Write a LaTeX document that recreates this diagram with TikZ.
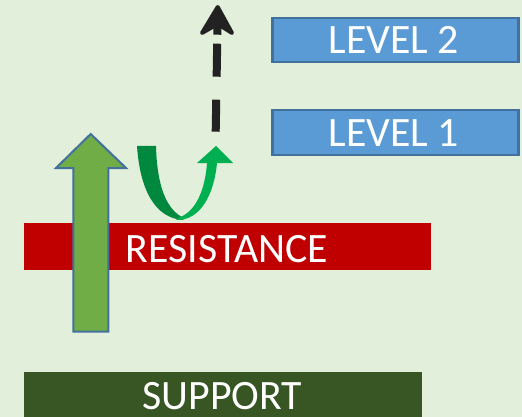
\documentclass[tikz,border=0pt]{standalone}
\usepackage{fontspec}
\setmainfont{Carlito}
\definecolor{bgc}{HTML}{E2EFDA}
\definecolor{levfill}{HTML}{5B9BD5}
\definecolor{levdraw}{HTML}{41719C}
\definecolor{resc}{HTML}{C00000}
\definecolor{supc}{HTML}{375623}
\definecolor{upc}{HTML}{70AD47}
\definecolor{udark}{HTML}{00893E}
\definecolor{ulight}{HTML}{00B050}
\definecolor{dashc}{HTML}{222222}
\tikzset{
  levbox/.style={rectangle, fill=levfill, draw=levdraw, line width=2.5pt, inner sep=0pt, anchor=north west},
  barbox/.style={rectangle, inner sep=0pt, anchor=north west},
  lbl/.style={text=white, inner sep=0pt, anchor=base, font=\fontsize{41.8}{42}\selectfont}
}
\begin{document}
\begin{tikzpicture}[x=1pt,y=-1pt]
\fill[bgc] (0,0) rectangle (522,417);
\useasboundingbox (0,0) rectangle (522,417);
% bars
\node[barbox, fill=resc, minimum width=407pt, minimum height=47pt] (res) at (24,223) {};
\node[barbox, fill=supc, minimum width=398pt, minimum height=46pt] (sup) at (24,372) {};
\node[levbox, minimum width=246pt, minimum height=44pt] (lev2) at (271,17) {};
\node[levbox, minimum width=246pt, minimum height=45pt] (lev1) at (271,109) {};
% labels
\node[lbl] (tres) at (227,262) {RESISTANCE};
\node[lbl] (tsup) at (222.5,409) {SUPPORT};
\node[lbl] (tl2) at (394,53.3) {LEVEL 2};
\node[lbl] (tl1) at (394,146.7) {LEVEL 1};
% big up arrow
\filldraw[fill=upc, draw=levdraw, line width=2pt, line join=miter]
  (73.3,331.7) -- (73.3,168) -- (56,168) -- (90.7,134) -- (126,168) -- (108.3,168) -- (108.3,331.7) -- cycle;
% U-turn arrow
\fill[udark] (137,146) -- (156,146) .. controls (157,185) and (166,210) .. (184,218)
  -- (183,220) .. controls (155,218) and (140,190) .. (137,146) -- cycle;
\fill[ulight] (176,220) .. controls (200,221) and (214,195) .. (217,163)
  -- (233,163) -- (216,146) -- (197,163) -- (207,163)
  .. controls (205,190) and (196,212) .. (178,218) -- cycle;
% dashed arrow
\coordinate (dstart) at (215.7,131.7);
\coordinate (dend) at (217.5,26);
\draw[dashc, line width=8pt, dash pattern=on 32pt off 23pt on 33pt off 9pt on 40pt] (dstart) -- (dend);
\filldraw[fill=dashc, draw=dashc, line width=4pt, line join=round]
  (217.7,7) -- (232,33) -- (217.7,24) -- (202,33) -- cycle;
\end{tikzpicture}
\end{document}
